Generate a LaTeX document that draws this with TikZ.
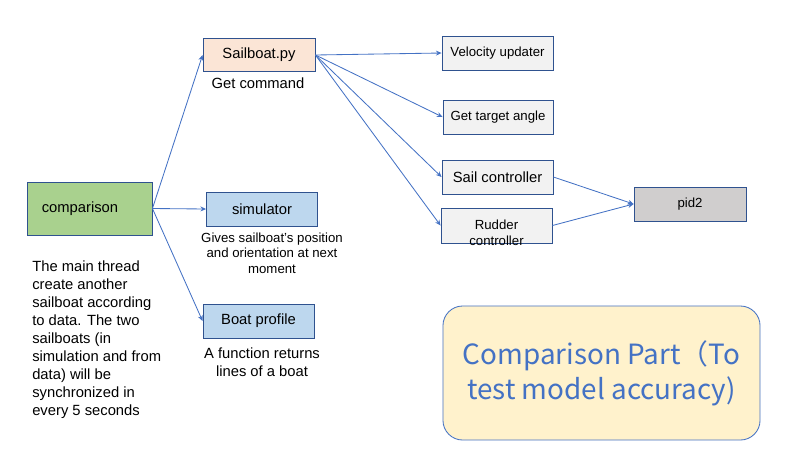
\documentclass[tikz,border=0pt]{standalone}
\usepackage{fontspec}
\setmainfont{Liberation Sans}
\newfontfamily\cjkfont{Noto Sans CJK SC}
\usetikzlibrary{arrows.meta}

\definecolor{boxline}{HTML}{2F528F}
\definecolor{arrowblue}{HTML}{4472C4}
\definecolor{greenfill}{HTML}{A9D18E}
\definecolor{peachfill}{HTML}{FBE5D6}
\definecolor{bluefill}{HTML}{BDD7EE}
\definecolor{greyfill}{HTML}{F2F2F2}
\definecolor{darkgreyfill}{HTML}{D0CECE}
\definecolor{notefill}{HTML}{FFF2CC}

% one pixel of the 800x450 picture
\newdimen\pxunit \pxunit=0.7113pt

\tikzset{
  modbox/.style={draw=boxline,line width=0.6pt,minimum width=111\pxunit,minimum height=34\pxunit,
    inner sep=0pt,font=\fontsize{10.5}{12.8}\selectfont},
  smallfont/.style={font=\fontsize{9.4}{11}\selectfont},
  remark/.style={align=center,inner sep=0pt,font=\fontsize{10.5}{12.8}\selectfont},
  flow/.style={->,draw=arrowblue,line width=0.6pt}
}

\begin{document}
\begin{tikzpicture}[x=0.025cm,y=-0.025cm,>={Stealth[length=4pt,width=3.5pt]}]
    \useasboundingbox (0,0) rectangle (800,450);
    \path (89.5,208.5) node [modbox,fill=greenfill,minimum width=125\pxunit,minimum height=53\pxunit]
	(comparison) {\hspace*{-13.5pt}comparison};
    \path (259,55) node [modbox,fill=peachfill,minimum width=112\pxunit,minimum height=33\pxunit]
	(sailboat) {Sailboat.py};
    \path (262,209) node [modbox,fill=bluefill]
	(simulator) {simulator};
    \path (258.5,321) node [modbox,fill=bluefill]
	(profile) {Boat profile};
    \path (497.5,53) node [modbox,fill=greyfill,smallfont]
	(velocity) {Velocity updater};
    \path (498,117) node [modbox,fill=greyfill,smallfont,minimum width=110\pxunit]
	(target) {Get target angle};
    \path (497.5,177) node [modbox,fill=greyfill]
	(sail) {Sail controller};
    \path (496.5,225.5) node [modbox,fill=greyfill,minimum height=35\pxunit]
	(rudder) {};
    \path (690,204) node [modbox,fill=darkgreyfill,smallfont,minimum width=112\pxunit]
	(pid) {pid2};
    \path (601.5,373) node [draw=arrowblue,line width=0.6pt,fill=notefill,rounded corners=14pt,
	minimum width=317\pxunit,minimum height=134\pxunit] (part) {};

    % texts
    \path (rudder.center) ++(0,7.5) node [remark,font=\fontsize{9.4}{11.4}\selectfont]
	(ruddertext) {Rudder\\controller};
    \path (258,83) node [remark] (sailboatnote) {Get command};
    \path (272,253) node [remark,font=\fontsize{9.4}{11}\selectfont]
	(simulatornote) {Gives sailboat’s position\\and orientation at next\\moment};
    \path (262,362) node [remark] (profilenote) {A function returns\\lines of a boat};
    \path (32,340) node [anchor=west,align=left,inner sep=0pt,
	font=\fontsize{10.5}{12.8}\selectfont] (mainnote)
	{The main thread\\create another\\sailboat according\\to data. The two\\sailboats (in\\simulation and from\\data) will be\\synchronized in\\every 5 seconds};
    \path (part.center) node [align=center,text=arrowblue,inner sep=0pt,
	font=\cjkfont\fontsize{19.8}{25}\selectfont] (parttext)
	{Comparison Part（To\\test model accuracy)};

    % connectors
    \draw [flow] (comparison.east) -- (sailboat.west);
    \draw [flow] (comparison.east) -- (simulator.west);
    \draw [flow] (comparison.east) -- (profile.west);
    \draw [flow] (sailboat.east) -- (velocity.west);
    \draw [flow] (sailboat.east) -- (target.west);
    \draw [flow] (sailboat.east) -- (sail.west);
    \draw [flow] (sailboat.east) -- (rudder.west);
    \draw [flow] (sail.east) -- (pid.west);
    \draw [flow] (rudder.east) -- (pid.west);
\end{tikzpicture}
\end{document}
